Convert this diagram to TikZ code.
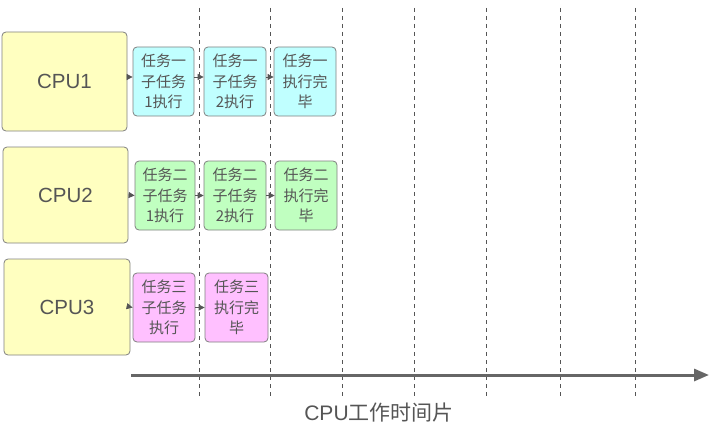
\documentclass[tikz,border=0pt]{standalone}
\usepackage{fontspec}
\setmainfont{Liberation Sans}
\newfontfamily\cjk{Noto Sans CJK SC}
\usetikzlibrary{arrows.meta}
\definecolor{cpuY}{HTML}{FFFFC0}
\definecolor{taskC}{HTML}{C0FFFF}
\definecolor{taskG}{HTML}{C0FFC0}
\definecolor{taskP}{HTML}{FFC0FF}
\definecolor{edgeG}{HTML}{808080}
\definecolor{txtG}{HTML}{555555}
\definecolor{axisG}{HTML}{666666}
\tikzset{
  cpubox/.style={draw=edgeG, line width=0.8pt, fill=cpuY, rounded corners=4pt,
    text=txtG, font=\fontsize{20.5}{24}\selectfont, inner sep=0pt},
  taskbox/.style={draw=edgeG, line width=0.8pt, rounded corners=4pt, text=txtG,
    align=center, inner sep=0pt, minimum height=69pt,
    font=\cjk\fontsize{15}{20.5}\selectfont},
  link/.style={draw=txtG, line width=0.8pt, -{Triangle[length=6pt,width=6pt]}},
  slot/.style={draw=txtG, line width=0.8pt, dash pattern=on 4pt off 4pt},
  axis/.style={draw=axisG, line width=3pt, -{Triangle[length=15pt,width=12pt]}}
}
\begin{document}
\begin{tikzpicture}[x=1pt,y=-1pt]
\fill[white] (0,0) rectangle (719,436);
\useasboundingbox (0,0) rectangle (719,436);
% dashed time slots
\foreach \xx/\nm in {199/a,270/b,342/c,414/d,486/e,560/f,635/g}{
  \coordinate (s\nm0) at (\xx,8);
  \coordinate (s\nm1) at (\xx,396);
  \draw[slot] (s\nm0) -- (s\nm1);
}
% CPUs
\node[cpubox, minimum width=125pt, minimum height=99pt] (cpu1) at (64.5,81.5) {CPU1};
\node[cpubox, minimum width=125pt, minimum height=96pt] (cpu2) at (65.5,195) {CPU2};
\node[cpubox, minimum width=126pt, minimum height=96pt] (cpu3) at (67,307) {CPU3};
% row 1
\node[taskbox, fill=taskC, minimum width=61pt] (t11) at (163.5,81.5) {任务一\\子任务\\1执行};
\node[taskbox, fill=taskC, minimum width=62pt] (t12) at (235,81.5) {任务一\\子任务\\2执行};
\node[taskbox, fill=taskC, minimum width=62pt] (t13) at (305,81.5) {任务一\\执行完\\毕};
% row 2
\node[taskbox, fill=taskG, minimum width=60pt] (t21) at (165,195.5) {任务二\\子任务\\1执行};
\node[taskbox, fill=taskG, minimum width=62pt] (t22) at (235,195.5) {任务二\\子任务\\2执行};
\node[taskbox, fill=taskG, minimum width=62pt] (t23) at (306,195.5) {任务二\\执行完\\毕};
% row 3
\node[taskbox, fill=taskP, minimum width=62pt] (t31) at (164,307.5) {任务三\\子任务\\执行};
\node[taskbox, fill=taskP, minimum width=63pt] (t32) at (236.5,307.5) {任务三\\执行完\\毕};
% links
\draw[link] ([yshift=4.5pt]cpu1.east) -- ([yshift=4.5pt]t11.west);
\draw[link] ([yshift=4.5pt]t11.east) -- ([yshift=4.5pt]t12.west);
\draw[link] ([yshift=4.5pt]t12.east) -- ([yshift=4.5pt]t13.west);
\draw[link] (cpu2.east) -- (t21.west);
\draw[link] (t21.east) -- (t22.west);
\draw[link] (t22.east) -- (t23.west);
\draw[link] (cpu3.east) -- (t31.west);
\draw[link] (t31.east) -- (t32.west);
% time axis
\coordinate (ax0) at (131,375);
\coordinate (ax1) at (709,375);
\draw[axis] (ax0) -- (ax1);
\node[text=txtG, font=\fontsize{21}{24}\selectfont, inner sep=0pt] (lbl) at (379,413) {CPU{\cjk 工作时间片}};
\end{tikzpicture}
\end{document}
